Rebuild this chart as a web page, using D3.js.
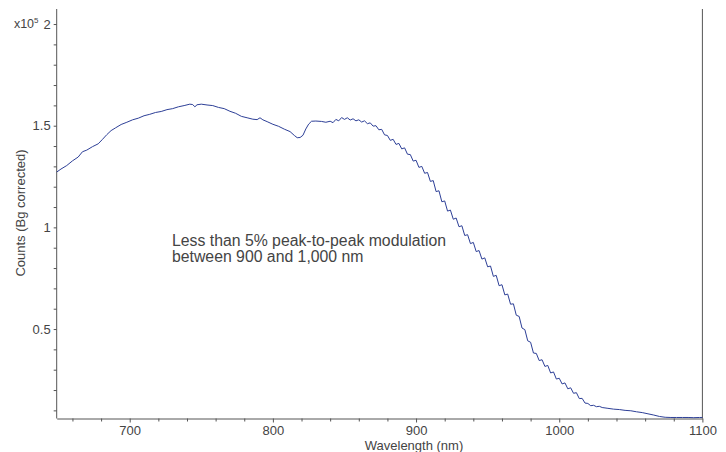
<!DOCTYPE html>
<html>
<head>
<meta charset="utf-8">
<script src="https://cdn.jsdelivr.net/npm/d3@7"></script>
<style>
  html, body { margin: 0; padding: 0; background: #fff; }
  svg { display: block; }
  text { font-family: "Liberation Sans", Arial, Helvetica, sans-serif; fill: #444; }
</style>
</head>
<body>
<svg id="chart" width="726" height="452"></svg>
<script>
// Wavelength (nm)
const wavelengths = [
  649, 652, 656, 660, 664, 667, 670, 674, 678, 681, 684, 687, 690, 694, 698,
  702, 706, 710, 714, 718, 722, 726, 730, 734, 738, 742, 744, 745.5, 747, 750,
  754, 758, 762, 766, 770, 774, 778, 782, 786, 789, 791, 793, 796, 800, 804,
  808, 812, 815, 817, 819, 821, 823, 825, 827, 830, 834, 837,
  840, 842, 844, 846, 848, 850, 852, 854, 856, 858, 860, 862, 864, 866, 868,
  870, 872, 874, 876, 878, 880, 882, 884, 886, 888, 890, 892, 894, 896, 898,
  900, 902, 904, 906, 908, 910, 912, 914, 916, 918, 920, 922, 924, 926, 928,
  930, 932, 934, 936, 938, 940, 942, 944, 946, 948, 950, 952, 954, 956, 958,
  960, 962, 964, 966, 968, 970, 972, 974, 976, 978, 980, 982, 984, 986, 988,
  990, 992, 994, 996, 998, 1000, 1002, 1004, 1006, 1008, 1010, 1012, 1014, 1016, 1018,
  1020, 1022, 1024, 1026, 1028, 1030, 1034, 1038, 1042, 1046, 1050, 1054, 1058, 1062, 1066,
  1070, 1074, 1078, 1082, 1086, 1090, 1094, 1098, 1100
];
// Counts (Bg corrected), in units of 1e5
const counts = [
  1.272, 1.287, 1.304, 1.327, 1.346, 1.372, 1.380, 1.397, 1.411, 1.433, 1.456, 1.476, 1.489, 1.506, 1.517,
  1.529, 1.537, 1.549, 1.556, 1.565, 1.570, 1.579, 1.584, 1.593, 1.599, 1.606, 1.604, 1.593, 1.603, 1.606,
  1.602, 1.599, 1.590, 1.584, 1.571, 1.561, 1.546, 1.539, 1.532, 1.530, 1.539, 1.529, 1.520, 1.507, 1.497,
  1.483, 1.471, 1.452, 1.441, 1.442, 1.453, 1.484, 1.508, 1.522, 1.523, 1.521, 1.517,
  1.522, 1.515, 1.531, 1.524, 1.540, 1.531, 1.539, 1.528, 1.534, 1.524, 1.529, 1.518, 1.524, 1.510, 1.514,
  1.498, 1.500, 1.480, 1.482, 1.455, 1.452, 1.428, 1.433, 1.408, 1.413, 1.386, 1.391, 1.360, 1.358, 1.326,
  1.330, 1.295, 1.300, 1.266, 1.270, 1.226, 1.230, 1.176, 1.180, 1.126, 1.130, 1.080, 1.085, 1.040, 1.046,
  1.003, 1.008, 0.960, 0.964, 0.920, 0.926, 0.881, 0.886, 0.844, 0.850, 0.806, 0.810, 0.759, 0.764, 0.713,
  0.718, 0.668, 0.672, 0.622, 0.624, 0.568, 0.562, 0.505, 0.497, 0.442, 0.435, 0.382, 0.380, 0.345, 0.349,
  0.316, 0.321, 0.284, 0.289, 0.254, 0.258, 0.230, 0.235, 0.206, 0.211, 0.184, 0.187, 0.158, 0.159, 0.136,
  0.134, 0.123, 0.125, 0.118, 0.120, 0.114, 0.110, 0.106, 0.104, 0.100, 0.098, 0.093, 0.089, 0.083, 0.077,
  0.070, 0.066, 0.065, 0.065, 0.065, 0.065, 0.064, 0.065, 0.065
];
const xMajorTicks = [700, 800, 900, 1000, 1100];
const xMinorTicks = [660, 680, 720, 740, 760, 780, 820, 840, 860, 880, 920, 940, 960, 980, 1020, 1040, 1060, 1080];
const yMajorTicks = [0.5, 1, 1.5, 2];
const yMinorTicks = [0.1, 0.2, 0.3, 0.4, 0.6, 0.7, 0.8, 0.9, 1.1, 1.2, 1.3, 1.4, 1.6, 1.7, 1.8, 1.9];
const yTickLabels = ["0.5", "1", "1.5", "2"];
const xTitle = "Wavelength (nm)";
const yTitle = "Counts (Bg corrected)";
const noteLines = ["Less than 5% peak-to-peak modulation", "between 900 and 1,000 nm"];

const svg = d3.select("#chart");
const pLeft = 56.7, pRight = 702.4, pTop = 9, pBottom = 418.5;

const x = d3.scaleLinear().domain([649, 1100]).range([pLeft, pRight]);
const y = d3.scaleLinear().domain([0.06, 2.074]).range([pBottom, pTop]);

const axisColor = "#555";

// frame lines: left, right
svg.append("line").attr("x1", pLeft).attr("x2", pLeft).attr("y1", pTop).attr("y2", pBottom)
  .attr("stroke", axisColor).attr("stroke-width", 1);
svg.append("line").attr("x1", pRight).attr("x2", pRight).attr("y1", pTop).attr("y2", pBottom)
  .attr("stroke", axisColor).attr("stroke-width", 1);

// bottom axis
const xAxis = d3.axisBottom(x).tickValues(xMajorTicks).tickFormat(d3.format("d"))
  .tickSizeInner(4).tickSizeOuter(0).tickPadding(3);
const gx = svg.append("g").attr("transform", `translate(0,${pBottom})`).call(xAxis);
gx.select(".domain").attr("stroke", axisColor);
gx.selectAll(".tick line").attr("stroke", axisColor);
gx.selectAll(".tick text").attr("font-size", 13).attr("fill", "#444")
  .attr("font-family", '"Liberation Sans", Arial, sans-serif');
const gxm = svg.append("g").attr("transform", `translate(0,${pBottom})`)
  .call(d3.axisBottom(x).tickValues(xMinorTicks).tickFormat("").tickSizeInner(3).tickSizeOuter(0));
gxm.select(".domain").remove();
gxm.selectAll(".tick line").attr("stroke", axisColor);

// left axis
const yAxis = d3.axisLeft(y).tickValues(yMajorTicks).tickFormat((d, i) => yTickLabels[i])
  .tickSizeInner(3).tickSizeOuter(0).tickPadding(3);
const gy = svg.append("g").attr("transform", `translate(${pLeft},0)`).call(yAxis);
gy.select(".domain").remove();
gy.selectAll(".tick line").attr("stroke", axisColor);
gy.selectAll(".tick text").attr("font-size", 13).attr("fill", "#444")
  .attr("font-family", '"Liberation Sans", Arial, sans-serif');
const gym = svg.append("g").attr("transform", `translate(${pLeft},0)`)
  .call(d3.axisLeft(y).tickValues(yMinorTicks).tickFormat("").tickSizeInner(3).tickSizeOuter(0));
gym.select(".domain").remove();
gym.selectAll(".tick line").attr("stroke", axisColor);

// exponent label next to "2"
const expText = svg.append("text")
  .attr("x", 38.5).attr("y", y(2)).attr("dy", "0.32em")
  .attr("text-anchor", "end")
  .attr("font-size", 12.5);
expText.append("tspan").text("x10");
expText.append("tspan").attr("font-size", 8).attr("dy", "-0.6em").text("5");

// axis titles
svg.append("text").attr("x", 414).attr("y", 450).attr("text-anchor", "middle")
  .attr("font-size", 13).text(xTitle);
svg.append("text").attr("transform", `translate(25,213) rotate(-90)`)
  .attr("text-anchor", "middle").attr("font-size", 13).text(yTitle);

// annotation
const note = svg.append("text").attr("font-size", 15.8);
noteLines.forEach((t, i) => {
  note.append("tspan").attr("x", 172).attr("y", 246 + i * 15.5).text(t);
});

// spectrum line
const data = wavelengths.map((w, i) => ({ w, c: counts[i] }));
const line = d3.line().x(d => x(d.w)).y(d => y(d.c));
svg.append("path").datum(data).attr("d", line)
  .attr("fill", "none").attr("stroke", "#2d3f97").attr("stroke-width", 1)
  .attr("stroke-linejoin", "round");
</script>
</body>
</html>
